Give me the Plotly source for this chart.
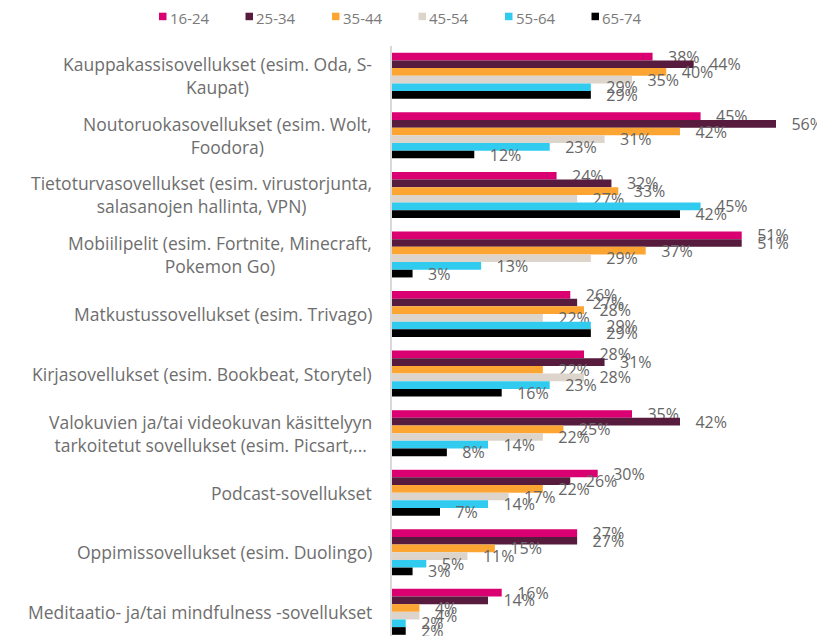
import plotly.graph_objects as go

categories = [
    "Kauppakassisovellukset (esim. Oda, S-<br>Kaupat)",
    "Noutoruokasovellukset (esim. Wolt,<br>Foodora)",
    "Tietoturvasovellukset (esim. virustorjunta,<br>salasanojen hallinta, VPN)",
    "Mobiilipelit (esim. Fortnite, Minecraft,<br>Pokemon Go)",
    "Matkustussovellukset (esim. Trivago)",
    "Kirjasovellukset (esim. Bookbeat, Storytel)",
    "Valokuvien ja/tai videokuvan käsittelyyn<br>tarkoitetut sovellukset (esim. Picsart,...",
    "Podcast-sovellukset",
    "Oppimissovellukset (esim. Duolingo)",
    "Meditaatio- ja/tai mindfulness -sovellukset",
]
series_names = ["16-24", "25-34", "35-44", "45-54", "55-64", "65-74"]
v_16_24 = [38, 45, 24, 51, 26, 28, 35, 30, 27, 16]
v_25_34 = [44, 56, 32, 51, 27, 31, 42, 26, 27, 14]
v_35_44 = [40, 42, 33, 37, 28, 22, 25, 22, 15, 4]
v_45_54 = [35, 31, 27, 29, 22, 28, 22, 17, 11, 4]
v_55_64 = [29, 23, 45, 13, 29, 23, 14, 14, 5, 2]
v_65_74 = [29, 12, 42, 3, 29, 16, 8, 7, 3, 2]
series_values = [v_16_24, v_25_34, v_35_44, v_45_54, v_55_64, v_65_74]
colors = ["#DA0072", "#561B3D", "#FDA533", "#DDD4CC", "#31CBEF", "#000000"]

FONT = "Open Sans"
OFF = 8  # page body margin
W, H = 825 - OFF, 636 - OFF
ML, MR, MT, MB = 392 - OFF, 0, 46 - OFF, 0
PW, PH = W - ML - MR, H - MT - MB

def px_x(p):
    return (p - OFF - ML) / PW

def px_y(p):
    return (H - MB - (p - OFF)) / PH

fig = go.Figure()
for name, vals, col in zip(series_names, series_values, colors):
    fig.add_trace(go.Bar(
        name=name, y=categories, x=vals, orientation="h",
        marker=dict(color=col, line=dict(width=0)),
        texttemplate="\u00a0\u00a0\u00a0%{x}%",
        textposition="outside", cliponaxis=False, constraintext="none",
        outsidetextfont=dict(family=FONT, size=16, color="#666666"),
        showlegend=False, hoverinfo="skip",
    ))

annotations = []
for c in categories:
    annotations.append(dict(
        x=0, xref="paper", y=c, yref="y", xanchor="right", yanchor="middle",
        xshift=-18, text=c, align="center", showarrow=False,
        font=dict(family=FONT, size=17.5, color="#6e6e6e"),
    ))

shapes = []
leg_start, leg_step, sq = 159, 86.5, 7.5
for i, (name, col) in enumerate(zip(series_names, colors)):
    x0 = leg_start + i * leg_step
    shapes.append(dict(
        type="rect", xref="paper", yref="paper",
        x0=px_x(x0), x1=px_x(x0 + sq), y0=px_y(12.7 + sq), y1=px_y(12.7),
        fillcolor=col, line=dict(width=0),
    ))
    annotations.append(dict(
        x=px_x(x0 + sq + 1), xref="paper", y=px_y(17.5), yref="paper",
        xanchor="left", yanchor="middle", text=name, showarrow=False,
        font=dict(family=FONT, size=15, color="#7a7a7a"),
    ))

fig.update_layout(
    width=W, height=H,
    margin=dict(l=ML, r=MR, t=MT, b=MB, pad=0),
    barmode="group", bargap=0.228, bargroupgap=0,
    plot_bgcolor="white", paper_bgcolor="white",
    font=dict(family=FONT),
    xaxis=dict(range=[0, PW / 6.857], visible=False, fixedrange=True),
    yaxis=dict(
        type="category", categoryorder="array", categoryarray=categories,
        range=[-0.5 + PH / 59.56, -0.5],
        showticklabels=False, ticks="", showgrid=False,
        showline=True, linecolor="#d9d9d9", linewidth=2, zeroline=False,
    ),
    annotations=annotations, shapes=shapes,
)

fig.write_html("out.html")
